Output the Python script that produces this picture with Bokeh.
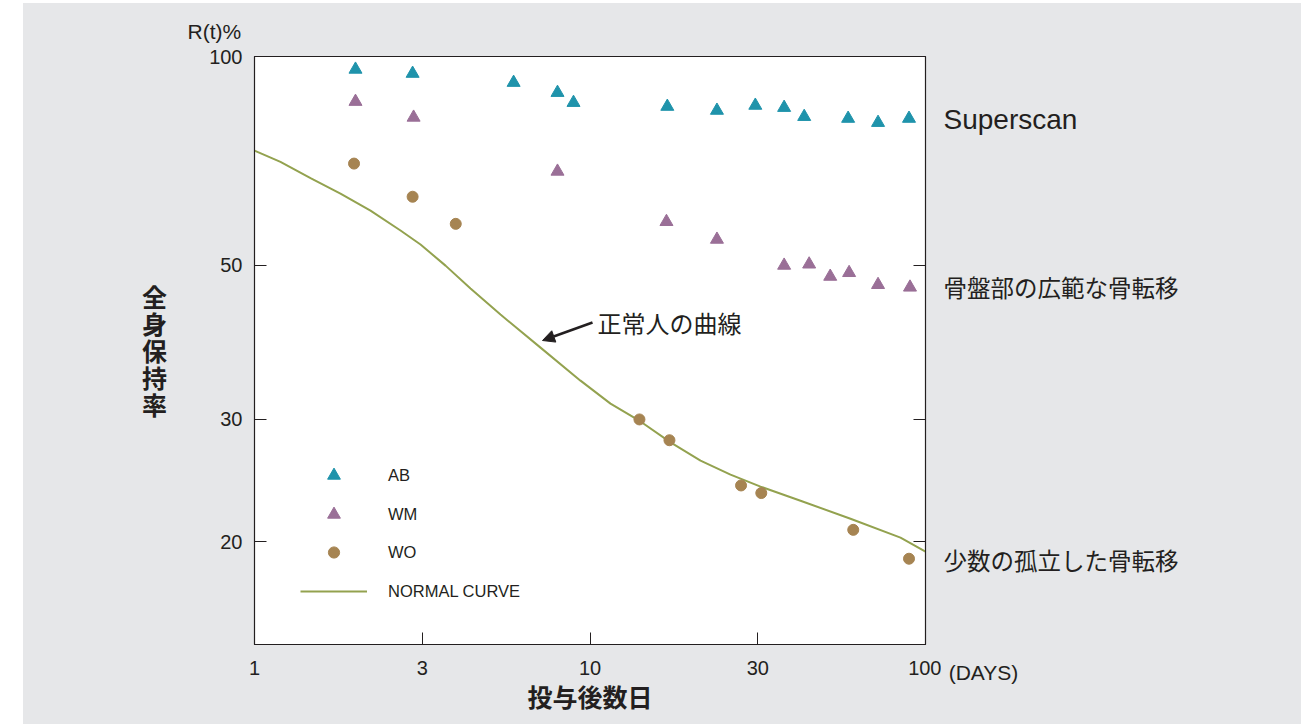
import numpy as np
from bokeh.plotting import figure
from bokeh.models import (FixedTicker, LogAxis, LinearAxis, Label, Arrow, NormalHead, Spacer,
                          Range1d, Legend, LegendItem)
from bokeh.layouts import row, column
from bokeh.embed import file_html
from bokeh.resources import INLINE

# ---------------- data ----------------
x_ticks = [1, 3.1623, 10, 31.623, 100]
x_tick_labels = ["1", "3", "10", "30", "100"]
y_ticks = [20, 30, 50, 100]
y_tick_labels = ["20", "30", "50", "100"]

ab_days = [2.0, 2.96, 5.92, 8.0, 8.93, 17.0, 23.9, 31.1, 37.9, 43.5, 58.8, 72.2, 89.3]
ab_pct = [95.8, 94.5, 91.7, 88.7, 85.8, 84.7, 83.6, 85.0, 84.4, 81.9, 81.4, 80.3, 81.4]

wm_days = [2.0, 2.98, 8.0, 16.9, 23.9, 37.9, 45.0, 52.0, 59.2, 72.2, 89.9]
wm_pct = [86.1, 81.7, 68.3, 57.8, 54.5, 50.0, 50.2, 48.2, 48.8, 46.9, 46.5]

wo_days = [1.98, 2.96, 3.98, 14.04, 17.25, 28.2, 32.4, 60.9, 89.3]
wo_pct = [70.1, 62.8, 57.4, 30.0, 28.0, 24.1, 23.5, 20.8, 18.9]

normal_days = [1.0, 1.195, 1.469, 1.804, 2.217, 2.724, 3.125, 3.71, 4.404, 5.41, 7.12,
               9.369, 11.51, 14.14, 17.38, 21.35, 26.23, 32.23, 42.41, 59.77, 84.23, 100.0]
normal_pct = [73.2, 70.5, 66.8, 63.46, 59.97, 56.14, 53.6, 49.97, 46.32, 42.48, 38.07,
              34.12, 31.62, 29.8, 27.8, 26.17, 24.98, 24.01, 22.91, 21.58, 20.27, 19.35]

# ---------------- layout ----------------
X_MIN, X_MAX = 1.0, 100.0
Y_MIN, Y_MAX = 14.22, 100.0
TOP = 3            # page y where the grey panel starts
BOTTOM = 724
H = BOTTOM - TOP
LEFT_W = 162       # page x 23 .. 185
MAIN_W = 756       # page x 185 .. 941
RIGHT_W = 360      # page x 941 .. 1301
FL, FR, FT, FB = 254, 925, 56, 644   # frame edges in page pixels


def sx(px):
    return 10 ** (np.log10(X_MIN) + (px - FL) / (FR - FL) * np.log10(X_MAX / X_MIN))


def sy(py):
    return 10 ** (np.log10(Y_MAX) - (py - FT) / (FB - FT) * np.log10(Y_MAX / Y_MIN))


TEXT = "#231f20"
BG = "#e6e7e9"
C_AB = "#1f93ab"
C_WM = "#9a6f97"
C_WO = "#a68452"
C_NC = "#93a24f"
LATIN = "Liberation Sans"
CJK = "Noto Sans CJK JP"

p = figure(width=MAIN_W, height=H, x_axis_type="log", y_axis_type="log",
           x_range=Range1d(X_MIN, X_MAX), y_range=Range1d(Y_MIN, Y_MAX),
           output_backend="svg", toolbar_location=None,
           min_border_left=FL - 185, min_border_right=941 - FR,
           min_border_top=FT - TOP, min_border_bottom=BOTTOM - FB)
p.background_fill_color = "white"
p.border_fill_color = BG
p.outline_line_color = TEXT
p.outline_line_width = 1.2
p.grid.visible = False

p.title.text = "R(t)%"
p.title.align = "left"
p.title.offset = 187 - FL
p.title.standoff = 27
p.title.text_font = LATIN
p.title.text_font_size = "21px"
p.title.text_font_style = "normal"
p.title.text_color = TEXT

p.xaxis.ticker = FixedTicker(ticks=x_ticks)
p.xaxis.major_label_overrides = {t: l for t, l in zip(x_ticks, x_tick_labels)}
p.yaxis.ticker = FixedTicker(ticks=y_ticks)
p.yaxis.major_label_overrides = {t: l for t, l in zip(y_ticks, y_tick_labels)}
for ax in (p.xaxis[0], p.yaxis[0]):
    ax.axis_line_color = TEXT
    ax.major_tick_line_color = TEXT
    ax.major_tick_in = 12
    ax.major_tick_out = 0
    ax.minor_tick_line_color = None
    ax.major_label_text_font = LATIN
    ax.major_label_text_font_size = "20px"
    ax.major_label_text_color = TEXT
p.yaxis.major_label_standoff = 12
p.xaxis.major_label_standoff = 16

p.xaxis.axis_label = "投与後数日"
p.xaxis.axis_label_text_font = CJK
p.xaxis.axis_label_text_font_style = "bold"
p.xaxis.axis_label_text_font_size = "25px"
p.xaxis.axis_label_text_color = TEXT
p.xaxis.axis_label_standoff = 0

right = LogAxis(ticker=FixedTicker(ticks=y_ticks), major_tick_in=12, major_tick_out=0,
                minor_tick_line_color=None, major_label_text_font_size="0px",
                major_label_standoff=0, axis_line_color=TEXT, major_tick_line_color=TEXT)
right.major_label_overrides = {t: "" for t in y_ticks}
p.add_layout(right, "right")

# data marks
r_nc = p.line(normal_days, normal_pct, line_color=C_NC, line_width=2)
r_ab = p.scatter(ab_days, ab_pct, marker="triangle", size=13, fill_color=C_AB, line_color=C_AB)
r_wm = p.scatter(wm_days, wm_pct, marker="triangle", size=13, fill_color=C_WM, line_color=C_WM)
r_wo = p.scatter(wo_days, wo_pct, marker="circle", size=11, fill_color=C_WO, line_color=C_WO)


def make_legend(items, glyph_h, spacing, loc_y):
    leg = Legend(items=[LegendItem(label=l, renderers=[r]) for l, r in items],
                 location=(46, loc_y), padding=0, margin=0, spacing=spacing,
                 glyph_width=67, glyph_height=glyph_h, label_height=glyph_h,
                 label_standoff=21, border_line_color=None, background_fill_alpha=0,
                 label_text_font=LATIN, label_text_font_size="16.5px",
                 label_text_color=TEXT)
    p.add_layout(leg)


make_legend([("AB", r_ab), ("WM", r_wm)], 32, 7, FB - (514 + 16))
make_legend([("WO", r_wo)], 28, 0, FB - (552 + 14))
make_legend([("NORMAL CURVE", r_nc)], 20, 0, FB - (591 + 10))

p.add_layout(Label(x=sx(597), y=sy(322), text="正常人の曲線", text_font=CJK,
                   text_font_size="24px", text_color=TEXT, text_baseline="middle"))
p.add_layout(Arrow(x_start=sx(592), y_start=sy(322), x_end=sx(542), y_end=sy(340),
                   line_color=TEXT, line_width=2.5,
                   end=NormalHead(size=12, fill_color=TEXT, line_color=TEXT)))


# side panels: their frames get aligned with the main frame (page y 56..644)
def side_panel(width, x0):
    f = figure(width=width, height=H, x_range=Range1d(x0, x0 + width),
               y_range=Range1d(FB, FT), x_axis_location=None, y_axis_location=None,
               output_backend="svg", toolbar_location=None, title=None,
               min_border_left=0, min_border_right=0,
               min_border_top=FT - TOP, min_border_bottom=BOTTOM - FB)
    f.background_fill_alpha = 0
    f.border_fill_alpha = 0
    f.outline_line_color = None
    f.grid.visible = False
    return f


def add_text(f, text, px, py, size, font, align="left", style="normal"):
    f.add_layout(Label(x=px, y=py, text=text, text_font=font, text_font_size=size,
                       text_color=TEXT, text_align=align, text_baseline="middle",
                       text_font_style=style))


pl = side_panel(LEFT_W, 23)
for ch, py in zip("全身保持率", [295, 322, 349, 376, 403]):
    add_text(pl, ch, 154, py, "25px", CJK, align="center", style="bold")

pr = side_panel(RIGHT_W, 941)
add_text(pr, "Superscan", 943, 119, "28px", LATIN)
add_text(pr, "骨盤部の広範な骨転移", 943, 286, "23.5px", CJK)
add_text(pr, "少数の孤立した骨転移", 943, 559, "23.5px", CJK)
days_axis = LinearAxis(ticker=FixedTicker(ticks=[983]), major_label_overrides={983: "(DAYS)"},
                       axis_line_color=None, major_tick_line_color=None,
                       minor_tick_line_color=None, major_tick_in=0, major_tick_out=0,
                       major_label_standoff=16, major_label_text_font=LATIN,
                       major_label_text_font_size="21px", major_label_text_color=TEXT)
pr.add_layout(days_axis, "below")

panels = row(pl, p, pr, styles={"background-color": BG})
layout = column(Spacer(height=TOP), row(Spacer(width=23), panels))
open("out.html", "w").write(file_html(layout, INLINE))
